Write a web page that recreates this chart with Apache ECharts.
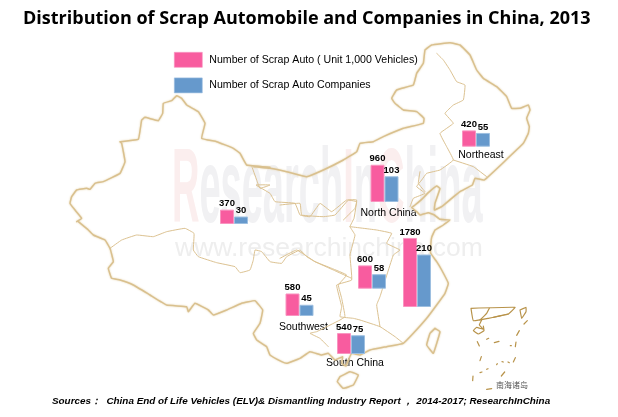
<!DOCTYPE html>
<html><head><meta charset="utf-8">
<style>html,body{margin:0;padding:0;background:#fff}#c{width:618px;height:417px}</style>
<script src="https://cdn.jsdelivr.net/npm/echarts@6/dist/echarts.min.js"></script>
</head><body><div id="c"></div>
<script>
// ---- data ----
const regions = ['', 'Southwest', 'South China', '', '', 'North China', 'Northeast'];
const scrapAuto = [370, 580, 540, 600, 1780, 960, 420];
const scrapCompanies = [30, 45, 75, 58, 210, 103, 55];
const seriesNames = ['Number of Scrap Auto ( Unit 1,000 Vehicles)', 'Number of Scrap Auto Companies'];
// ---- layout of the small bar groups on the map ----
const groupLeft = [220, 285.5, 337, 358, 403, 370.5, 462];
const groupBase = [224, 316, 354, 288.7, 307, 202, 146.7];
const labelMargin = [3, 6, 4, 3, 3, 6, 3];
const labelShift = [0, 8, 8, 0, 0, 8, 10];
const GH = 100, GW = 28;
const pinkMax = GH / 0.0388, blueMax = GH / 0.25;

// ---- map trace, decoration (points in zoom frames) ----
const z = (ox, oy, p) => p.map(q => [ox + q[0] / 3, oy + q[1] / 3]);
const outer = [
  z(70, 90, [[20,395],[35,385],[15,360],[0,340],[5,320],[20,300],[50,295],[60,298],[75,280],[100,275],[150,250],[165,215],[155,160],[150,155],[205,148],[215,90],[225,82],[265,92],[278,70],[280,40],[305,32],[320,17],[335,25],[350,45],[385,65],[405,100],[395,145],[440,155],[490,175],[510,190],[530,225],[600,232]])
  .concat(z(240, 30, [[40,410],[90,415],[140,425],[200,440],[250,420],[310,390],[350,365],[360,340],[400,335],[430,320],[490,295],[550,280],[552,265],[530,245],[490,240],[465,220],[455,205],[470,180],[520,165],[530,130],[550,100],[555,60],[575,45],[630,38],[660,45],[690,75],[710,120],[730,145],[770,170],[800,200],[815,235],[840,235],[865,225],[870,240],[860,265],[868,290],[865,310],[850,340]]))
  .concat(z(395, 150, [[268,90],[240,85],[232,105],[195,125],[170,145],[140,170],[118,180],[120,160],[135,115],[125,108],[100,128],[80,148],[60,165],[50,172],[65,185],[75,195],[100,188],[118,195],[135,208],[165,210],[145,225],[120,240],[110,262]]))
  .concat(z(280, 190, [[452,170],[452,190],[470,215],[485,240],[505,280],[495,310],[470,345],[440,385],[400,430],[370,460],[320,470],[270,480],[240,495],[215,490],[205,510],[198,528],[185,520],[188,500],[165,510],[145,490],[125,495],[90,485],[60,505],[20,520]]))
  .concat(z(70, 220, [[635,425],[600,405],[590,380],[560,360],[550,340],[570,310],[578,270],[555,242],[515,250],[470,270],[430,285],[415,270],[375,250],[355,275],[350,260],[290,255],[240,225],[190,195],[150,180],[125,175],[115,145],[130,125],[120,85],[105,60],[70,45],[55,30],[25,5]])),
  z(280, 190, [[180,560],[210,545],[235,555],[220,585],[190,595],[172,575],[180,560]]),
  z(280, 190, [[465,415],[480,425],[460,490],[440,465],[450,430],[465,415]])
];
const inner = [
  z(70, 220, [[120,85],[155,60],[200,45],[250,50],[290,35],[345,25],[372,40],[370,90],[385,110],[440,128],[495,140],[510,158],[540,150],[550,120],[555,90],[575,95],[600,125],[635,130],[650,110],[690,90]])
  .concat(z(200, 190, [[320,200],[345,215],[395,235],[440,255],[415,285],[425,325],[435,380],[420,390],[350,425],[330,430],[360,445],[385,470]])),
  z(70, 90, [[545,228],[560,270],[570,295],[600,285]]).concat(z(240, 30, [[48,465],[90,490],[105,515],[165,520],[180,555],[210,560],[240,520],[275,545],[320,510],[350,515],[345,535],[310,570]])),
  z(280, 190, [[0,45],[60,40],[65,75],[130,80],[165,75],[205,30],[230,30],[222,85],[210,110],[225,135],[210,195],[215,270],[170,285],[185,350],[180,380],[220,385],[240,390],[300,410],[345,440],[370,460]]),
  z(280, 190, [[210,110],[290,120],[335,130],[320,160],[360,180],[340,195],[300,320],[290,345],[300,410]]),
  z(280, 190, [[0,205],[50,180],[105,215],[160,240],[215,265]]),
  z(240, 30, [[590,70],[610,90],[630,120],[650,155],[675,165],[670,210],[640,225],[615,250],[640,280],[600,310],[620,350],[640,390],[600,420],[560,430],[545,450],[530,470],[555,490],[520,505],[510,530]]),
  z(240, 30, [[640,390],[700,410],[740,440]]),
  z(395, 150, [[75,65],[70,100],[90,125]])
];
const inset = [
  z(440, 290, [[93,55],[225,52],[205,72],[145,85],[100,92],[93,55]]),
  z(440, 290, [[125,90],[118,105],[130,118],[110,112],[100,122],[115,132],[132,122],[130,108]]),
  z(440, 290, [[148,55],[140,70],[120,90]]),
  z(440, 290, [[160,82],[190,75],[205,72]]),
  z(440, 290, [[240,60],[258,52],[258,65],[245,85],[240,60]]),
  z(440, 290, [[262,92],[252,102]]), z(440, 290, [[238,122],[230,136]]), z(440, 290, [[228,156],[226,170]]),
  z(440, 290, [[226,203],[220,216]]), z(440, 290, [[194,246],[184,258]]), z(440, 290, [[112,155],[118,168]]),
  z(440, 290, [[124,200],[120,212]]), z(440, 290, [[99,258],[98,272]]), z(440, 290, [[140,298],[155,296]]),
  z(440, 290, [[163,158],[177,154]]), z(440, 290, [[140,148],[146,145]]),
  z(440, 290, [[120,248],[126,246]]), z(440, 290, [[140,238],[144,236]]), z(440, 290, [[170,224],[172,221]]), z(440, 290, [[186,215],[190,216]]), z(440, 290, [[204,216],[208,218]]), z(440, 290, [[211,167],[214,167]])
];
const line = (pts, color, w, blur) => ({
  type: 'polyline', z: 1, silent: true, shape: { points: pts, smooth: 0.08 },
  style: { fill: null, stroke: color, lineWidth: w, shadowBlur: blur, shadowColor: blur ? '#e3d0a8' : 'transparent', lineJoin: 'round', lineCap: 'round' }
});
const FONT = '"Liberation Sans", sans-serif';
const graphic = [
  { type: 'text', z: 0, silent: true, x: 172, y: 141, scaleX: 0.362, style: {
      text: '{p|R}{g|esearch}{p|I}{g|n}{p|C}{g|hina}', font: '105px "Liberation Sans"',
      rich: { p: { fill: '#fbeeee', font: 'bold 105px "Liberation Sans"' }, g: { fill: '#f1f1f3', font: 'bold 105px "Liberation Sans"' } } } },
  { type: 'text', z: 0, silent: true, x: 175, y: 235, style: { text: 'www.researchinchina.com', font: '26.5px "Liberation Sans"', fill: '#eeeeee' } },
  { type: 'text', z: 1, silent: true, x: 496, y: 381, style: { text: '南海诸岛', font: '8px "Noto Sans CJK SC"', fill: '#555' } }
].concat(inner.map(p => line(p, '#dcc291', 1, 0)))
 .concat(outer.map(p => line(p, '#d9c08e', 1.5, 2)))
 .concat(inset.map(p => line(p, '#b8934a', 1.2, 0)));

const grids = [], xAxes = [], yAxes = [], series = [];
regions.forEach((name, i) => {
  grids.push({ left: groupLeft[i], top: groupBase[i] - GH, width: GW, height: GH, containLabel: false });
  xAxes.push({ gridIndex: i, type: 'category', data: [name],
    axisLine: { show: false }, axisTick: { show: false }, splitLine: { show: false },
    axisLabel: { show: !!name, interval: 0, hideOverlap: false, margin: labelMargin[i], color: '#000',
      fontFamily: FONT, fontSize: 10.5, padding: [0, 0, 0, labelShift[i]] } });
  yAxes.push({ gridIndex: i, type: 'value', min: 0, max: pinkMax, show: false, splitLine: { show: false } });
  yAxes.push({ gridIndex: i, type: 'value', min: 0, max: blueMax, show: false, splitLine: { show: false } });
  [[scrapAuto, '#f85c9f', '#f994c0'], [scrapCompanies, '#6699cc', '#9dbfe0']].forEach((s, k) => {
    series.push({ type: 'bar', name: seriesNames[k], xAxisIndex: i, yAxisIndex: 2 * i + k,
      data: [s[0][i]], barWidth: 14, barGap: 0, z: 3, animation: false,
      itemStyle: { color: s[1], borderColor: s[2], borderWidth: 1 },
      label: { show: true, position: 'top', distance: 1, color: '#000', fontFamily: FONT, fontWeight: 'bold', fontSize: 9.5 } });
  });
});

const chart = echarts.init(document.getElementById('c'), null, { renderer: 'canvas' });
chart.setOption({
  animation: false, backgroundColor: '#fff',
  title: [
    { text: 'Distribution of Scrap Automobile and Companies in China, 2013', left: 18, top: 5,
      textStyle: { fontFamily: '"Open Sans", sans-serif', fontWeight: 'bold', fontSize: 18, color: '#000' } },
    { text: 'Sources：  China End of Life Vehicles (ELV)& Dismantling Industry Report ， 2014-2017; ResearchInChina', left: 47, top: 391,
      textStyle: { fontFamily: FONT, fontStyle: 'italic', fontWeight: 'bold', fontSize: 9.9, color: '#000' } }
  ],
  legend: { left: 169, top: 47, orient: 'vertical', itemWidth: 28, itemHeight: 15, itemGap: 10, icon: 'rect',
    selectedMode: false, data: seriesNames, itemStyle: { borderWidth: 0.6 },
    textStyle: { fontFamily: FONT, fontSize: 10.6, color: '#000', padding: [0, 0, 0, 2] } },
  graphic: graphic, grid: grids, xAxis: xAxes, yAxis: yAxes, series: series
});
</script></body></html>
